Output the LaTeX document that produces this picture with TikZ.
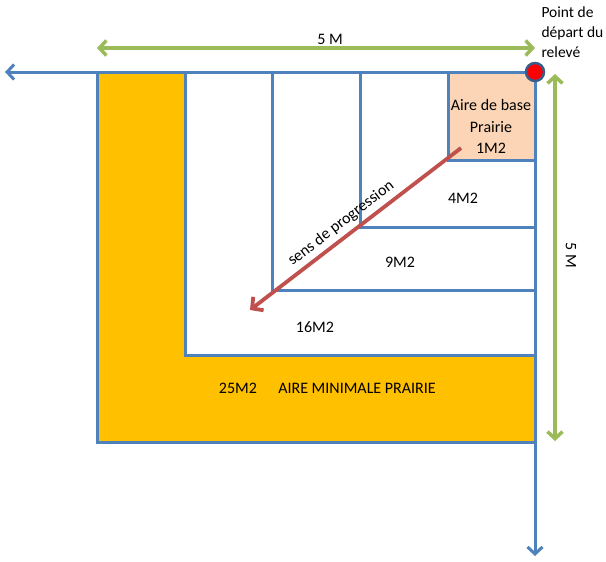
\documentclass[tikz,border=0pt]{standalone}
\usepackage{fontspec}
\setmainfont{Carlito}
\usetikzlibrary{arrows.meta}
\definecolor{lineblue}{RGB}{79,129,189}
\definecolor{dimgreen}{RGB}{155,187,89}
\definecolor{plotorange}{RGB}{255,192,0}
\definecolor{basepeach}{RGB}{251,213,181}
\definecolor{progred}{RGB}{192,80,77}
\definecolor{dotblue}{RGB}{56,93,138}
\begin{document}
\begin{tikzpicture}[x=1pt,y=-1pt,
    plot/.style={draw=lineblue,line width=3pt},
    axis/.style={draw=lineblue,line width=3pt,-{Straight Barb[length=7pt,width=15pt]}},
    dim/.style={draw=dimgreen,line width=3.5pt,{Straight Barb[length=7pt,width=15pt]}-{Straight Barb[length=7pt,width=15pt]}},
    progress/.style={draw=progred,line width=3.8pt,-{Straight Barb[length=8pt,width=17pt]}},
    lab/.style={font=\fontsize{16}{18}\selectfont}]
    \useasboundingbox (0,0) rectangle (606,562);
    % points de repere
    \coordinate (depart) at (535,72);
    \coordinate (xend) at (5,72);
    \coordinate (yend) at (535,556);
    % placettes emboitees
    \fill[plotorange] (97,72) rectangle (535,442);
    \fill[white] (185,72) rectangle (535,355);
    \fill[basepeach] (448,72) rectangle (535,160);
    \draw[plot] (97,72) rectangle (535,442);
    \foreach \xa/\yb in {185/355,272/290,360/227,448/160}
        \draw[plot] (\xa,72) rectangle (535,\yb);
    \node[lab] (base1) at (491,105) {Aire de base};
    \node[lab] (base2) at (491,127) {Prairie};
    \node[lab] (base3) at (491,148) {1M2};
    \node[lab] (quatre) at (463,198) {4M2};
    \node[lab] (neuf) at (400,262) {9M2};
    \node[lab] (seize) at (315,327) {16M2};
    \node[lab] (vingtcinq) at (238,388) {25M2};
    \node[lab] (minimale) at (357,388) {AIRE MINIMALE PRAIRIE};
    % axes
    \draw[axis] (depart) -- (xend);
    \draw[axis] (depart) -- (yend);
    % cotes
    \coordinate (h1) at (97,48);
    \coordinate (h2) at (535,48);
    \coordinate (v1) at (555,74);
    \coordinate (v2) at (555,441);
    \draw[dim] (h1) -- (h2);
    \draw[dim] (v1) -- (v2);
    \node[lab] (cote1) at (330,39) {5 M};
    \node[lab,rotate=-90] (cote2) at (571,255) {5 M};
    % sens de progression
    \coordinate (sstart) at (461,148);
    \coordinate (send) at (250,310);
    \draw[progress] (sstart) -- (send)
        node[lab,pos=0.53,sloped,above=1pt] (sens) {sens de progression};
    \node[circle,fill=red,draw=dotblue,line width=2.5pt,minimum size=18pt,inner sep=0pt] (dot) at (depart) {};
    \node[lab,align=left,anchor=north west,font=\fontsize{15.5}{20}\selectfont] (point) at (538,3) {Point de\\départ du\\relevé};
\end{tikzpicture}
\end{document}
